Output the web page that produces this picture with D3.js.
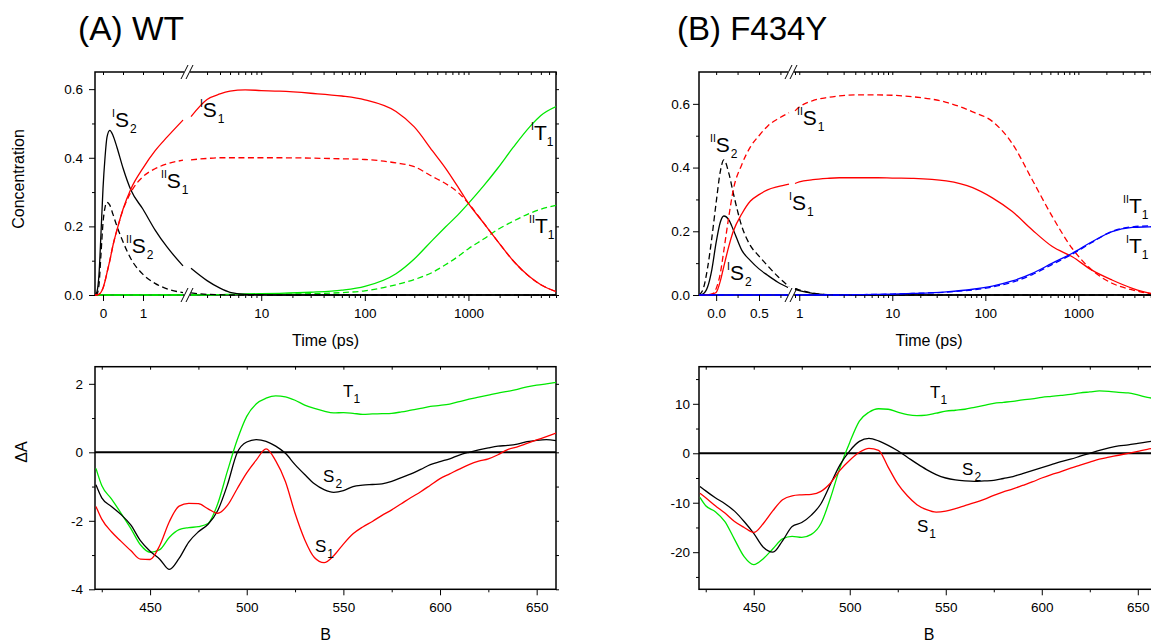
<!DOCTYPE html>
<html>
<head>
<meta charset="utf-8">
<script src="https://cdn.jsdelivr.net/npm/d3@7"></script>
<style>
  body { margin: 0; background: #fff; }
</style>
</head>
<body>
<svg id="chart" width="1151" height="643"></svg>
<script>
/*global d3*/

// (A) WT concentration profiles
var timeA = [-0.2, -0.15, -0.1, -0.05, 0, 0.05, 0.1, 0.17, 0.25, 0.35, 0.5, 0.7, 1.0, 1.3, 1.6, 2.0,
  2.1, 3, 4, 5, 7, 10, 15, 30, 60, 100, 200, 300, 450, 600, 800, 1000, 1400, 1900, 2700, 3900, 5000, 7000];
var wtS2I = [0, 0.01, 0.06, 0.18, 0.31, 0.4, 0.46, 0.48, 0.465, 0.43, 0.37, 0.305, 0.25, 0.19, 0.14, 0.085,
  0.078, 0.042, 0.02, 0.008, 0.002, 0.001, 0, 0, 0, 0, 0, 0, 0, 0, 0, 0, 0, 0, 0, 0, 0, 0];
var wtS2II = [0, 0.003, 0.03, 0.12, 0.21, 0.255, 0.27, 0.262, 0.235, 0.2, 0.155, 0.105, 0.06, 0.034, 0.018, 0.007,
  0.006, 0.002, 0.001, 0, 0, 0, 0, 0, 0, 0, 0, 0, 0, 0, 0, 0, 0, 0, 0, 0, 0, 0];
var wtS1I = [0, 0, 0.002, 0.008, 0.02, 0.04, 0.065, 0.1, 0.145, 0.19, 0.25, 0.31, 0.37, 0.42, 0.46, 0.51,
  0.52, 0.57, 0.586, 0.594, 0.598, 0.596, 0.594, 0.588, 0.58, 0.569, 0.535, 0.49, 0.42, 0.37, 0.313, 0.267,
  0.21, 0.158, 0.1, 0.053, 0.03, 0.01];
var wtS1II = [0, 0, 0.002, 0.008, 0.02, 0.04, 0.065, 0.1, 0.145, 0.19, 0.248, 0.3, 0.345, 0.368, 0.382, 0.393,
  0.394, 0.398, 0.4, 0.4, 0.4, 0.4, 0.4, 0.399, 0.397, 0.395, 0.385, 0.374, 0.345, 0.325, 0.298, 0.267,
  0.21, 0.158, 0.1, 0.053, 0.03, 0.01];
var wtT1I = [0, 0, 0, 0, 0, 0, 0, 0, 0, 0, 0, 0, 0, 0, 0, 0,
  0, 0.001, 0.001, 0.002, 0.003, 0.004, 0.005, 0.008, 0.014, 0.025, 0.062, 0.105, 0.16, 0.198, 0.235, 0.267,
  0.318, 0.368, 0.43, 0.49, 0.523, 0.549];
var wtT1II = [0, 0, 0, 0, 0, 0, 0, 0, 0, 0, 0, 0, 0, 0, 0, 0,
  0, 0, 0, 0.001, 0.001, 0.001, 0.002, 0.004, 0.007, 0.012, 0.03, 0.045, 0.066, 0.088, 0.113, 0.135,
  0.163, 0.19, 0.215, 0.238, 0.25, 0.261];

// (B) F434Y concentration profiles
var timeB = [-0.2, -0.15, -0.1, -0.05, 0, 0.05, 0.09, 0.15, 0.2, 0.3, 0.4, 0.5, 0.6, 0.72, 0.85,
  0.9, 1, 1.4, 2, 2.7, 4, 7, 10, 17, 38, 73, 119, 195, 320, 525, 860, 1400, 2300, 3800, 5800, 7000];
var mtS2I = [0, 0.004, 0.025, 0.08, 0.165, 0.23, 0.248, 0.235, 0.205, 0.14, 0.108, 0.082, 0.062, 0.04, 0.022,
  0.018, 0.014, 0.005, 0.001, 0, 0, 0, 0, 0, 0, 0, 0, 0, 0, 0, 0, 0, 0, 0, 0, 0];
var mtS2II = [0, 0.02, 0.085, 0.18, 0.29, 0.39, 0.424, 0.38, 0.32, 0.215, 0.155, 0.122, 0.092, 0.058, 0.026,
  0.02, 0.016, 0.006, 0.001, 0, 0, 0, 0, 0, 0, 0, 0, 0, 0, 0, 0, 0, 0, 0, 0, 0];
var mtS1I = [0, 0, 0.001, 0.003, 0.008, 0.045, 0.09, 0.155, 0.2, 0.255, 0.295, 0.315, 0.33, 0.34, 0.348,
  0.35, 0.355, 0.362, 0.366, 0.368, 0.368, 0.368, 0.367, 0.366, 0.358, 0.337, 0.305, 0.262, 0.204, 0.152,
  0.12, 0.078, 0.047, 0.021, 0.006, 0.003];
var mtS1II = [0, 0, 0, 0.003, 0.02, 0.07, 0.14, 0.25, 0.33, 0.41, 0.465, 0.5, 0.53, 0.553, 0.572,
  0.578, 0.59, 0.61, 0.62, 0.625, 0.628, 0.628, 0.627, 0.622, 0.605, 0.575, 0.545, 0.475, 0.361, 0.246,
  0.146, 0.078, 0.037, 0.016, 0.005, 0.003];
var mtT1I = [0, 0, 0, 0, 0, 0, 0, 0, 0, 0, 0, 0, 0, 0, 0,
  0, 0, 0, 0, 0, 0.001, 0.002, 0.003, 0.005, 0.01, 0.018, 0.028, 0.044, 0.068, 0.1,
  0.131, 0.167, 0.199, 0.212, 0.214, 0.215];
var mtT1II = [0, 0, 0, 0, 0, 0, 0, 0, 0, 0, 0, 0, 0, 0, 0,
  0, 0, 0, 0, 0, 0.001, 0.002, 0.003, 0.005, 0.009, 0.016, 0.025, 0.04, 0.064, 0.096,
  0.128, 0.165, 0.2, 0.214, 0.217, 0.217];

// species spectra
var wavelength = [422, 425, 430, 435, 440, 445, 450, 455, 460, 465, 470, 475, 480, 485, 490, 495, 500,
  505, 510, 515, 520, 525, 530, 535, 540, 545, 550, 555, 560, 565, 570, 575, 580, 585, 590, 595, 600,
  605, 610, 615, 620, 625, 630, 635, 640, 645, 650, 655, 660];
var wtSpecT1 = [-0.47, -0.97, -1.36, -1.78, -2.22, -2.70, -2.92, -2.84, -2.48, -2.26, -2.20, -2.17, -2.08,
  -1.50, -0.55, 0.35, 1.05, 1.42, 1.58, 1.65, 1.62, 1.52, 1.38, 1.28, 1.20, 1.15, 1.16, 1.14, 1.11, 1.12,
  1.13, 1.14, 1.18, 1.23, 1.28, 1.34, 1.37, 1.41, 1.48, 1.55, 1.61, 1.67, 1.73, 1.78, 1.84, 1.91, 1.96,
  2.00, 2.04];
var wtSpecS2 = [-0.95, -1.33, -1.58, -1.82, -2.12, -2.58, -2.89, -3.12, -3.42, -3.10, -2.62, -2.32, -2.10,
  -1.70, -0.95, -0.02, 0.30, 0.37, 0.32, 0.18, -0.03, -0.36, -0.65, -0.92, -1.09, -1.17, -1.12, -1.00,
  -0.96, -0.94, -0.92, -0.85, -0.74, -0.63, -0.50, -0.36, -0.27, -0.19, -0.08, 0.00, 0.07, 0.13, 0.18,
  0.20, 0.24, 0.31, 0.35, 0.37, 0.34];
var wtSpecS1 = [-1.58, -1.95, -2.32, -2.60, -2.87, -3.12, -3.13, -2.72, -2.02, -1.57, -1.49, -1.50, -1.65,
  -1.78, -1.55, -1.07, -0.60, -0.22, 0.10, -0.25, -0.85, -1.78, -2.55, -3.07, -3.22, -3.02, -2.68, -2.38,
  -2.18, -2.02, -1.84, -1.68, -1.50, -1.32, -1.15, -0.96, -0.77, -0.63, -0.49, -0.36, -0.26, -0.19, -0.07,
  0.08, 0.16, 0.26, 0.36, 0.46, 0.56];
var mtSpecT1 = [-8.9, -10.6, -11.8, -13.8, -17.4, -20.9, -22.5, -21.3, -19.3, -17.3, -16.8, -17.0, -16.4,
  -14.2, -9.0, -2.8, 2.2, 6.5, 8.3, 9.0, 8.9, 8.3, 7.8, 7.6, 7.7, 8.1, 8.5, 8.7, 8.9, 9.3, 9.7, 10.1, 10.3,
  10.5, 10.8, 11.0, 11.3, 11.5, 11.7, 11.9, 12.2, 12.4, 12.6, 12.5, 12.3, 12.2, 11.8, 11.3, 11.0];
var mtSpecS2 = [-6.7, -7.6, -9.0, -10.2, -11.7, -13.8, -16.2, -19.0, -20.0, -17.7, -14.8, -14.0, -12.5,
  -10.2, -6.2, -2.3, 0.5, 2.4, 3.0, 2.5, 1.6, 0.5, -0.8, -2.1, -3.3, -4.3, -5.0, -5.4, -5.6, -5.7, -5.6,
  -5.5, -5.1, -4.7, -4.1, -3.5, -2.9, -2.3, -1.7, -1.2, -0.6, 0.0, 0.6, 1.1, 1.5, 1.7, 2.0, 2.3, 2.6];
var mtSpecS1 = [-8.1, -9.0, -10.6, -12.1, -13.8, -15.0, -16.0, -14.2, -11.6, -9.4, -8.6, -8.4, -8.3, -7.7,
  -6.0, -3.4, -1.4, 0.2, 1.0, 0.6, -2.8, -6.2, -8.6, -10.4, -11.4, -11.9, -11.7, -11.2, -10.6, -10.0, -9.3,
  -8.5, -7.8, -7.2, -6.5, -5.8, -5.0, -4.3, -3.7, -3.0, -2.4, -1.8, -1.2, -0.8, -0.4, 0.0, 0.4, 0.8, 1.1];

// ticks
var concTicks = [0, 0.2, 0.4, 0.6], concMinor = [0.1, 0.3, 0.5];
var linTicksA = [0, 1], linMinorA = [0.5, 1.5];
var linTicksB = [0, 0.5], linMinorB = [0.25, 0.75];
var logTicksA = [10, 100, 1000], logTicksB = [1, 10, 100, 1000];
var wlTicks = [450, 500, 550, 600, 650], wlMinor = [425, 475, 525, 575, 625];
var dATicksA = [-4, -2, 0, 2], dAMinorA = [-3, -1, 1];
var dATicksB = [-20, -10, 0, 10], dAMinorB = [-25, -15, -5, 5, 15];

// state labels, placed in data units
var labelsTopA = [
  {sup: 'I', name: 'S', sub: '2', t: 0.225, v: 0.49},
  {sup: 'I', name: 'S', sub: '1', t: 2.56, v: 0.519},
  {sup: 'II', name: 'S', sub: '1', t: 1.45, v: 0.312},
  {sup: 'II', name: 'S', sub: '2', t: 0.575, v: 0.122},
  {sup: 'I', name: 'T', sub: '1', t: 4020, v: 0.452},
  {sup: 'II', name: 'T', sub: '1', t: 3850, v: 0.181}
];
var labelsTopB = [
  {sup: 'II', name: 'S', sub: '1', t: 0.945, v: 0.534},
  {sup: 'II', name: 'S', sub: '2', t: -0.072, v: 0.449},
  {sup: 'I', name: 'S', sub: '1', t: 0.85, v: 0.267},
  {sup: 'I', name: 'S', sub: '2', t: 0.127, v: 0.047},
  {sup: 'II', name: 'T', sub: '1', t: 3020, v: 0.257},
  {sup: 'I', name: 'T', sub: '1', t: 3250, v: 0.132}
];
var labelsBottomA = [
  {name: 'T', sub: '1', t: 549.8, v: 1.615},
  {name: 'S', sub: '2', t: 539.5, v: -0.866},
  {name: 'S', sub: '1', t: 535.3, v: -2.91}
];
var labelsBottomB = [
  {name: 'T', sub: '1', t: 541.8, v: 11.17},
  {name: 'S', sub: '2', t: 558.5, v: -4.39},
  {name: 'S', sub: '1', t: 535.0, v: -15.9}
];

var font = '"Liberation Sans", Arial, Helvetica, sans-serif',
  red = '#ff0000', green = '#00e800', blue = '#0000ff',
  svg = d3.select('#chart'),
  clipId = 0;

function brokenScale(linDomain, linRange, logDomain, logRange) {
  var lin = d3.scaleLinear().domain(linDomain).range(linRange),
    log = d3.scaleLog().domain(logDomain).range(logRange),
    f = function (t) {
      return t <= linDomain[1] ? lin(t) : log(t);
    };
  f.lin = lin;
  f.log = log;
  f.cut = linDomain[1];
  f.resume = logDomain[0];
  return f;
}

function styleAxis(sel) {
  sel.select('.domain').remove();
  sel.selectAll('line').attr('stroke', '#000').attr('stroke-width', 1);
  sel.selectAll('text')
    .attr('font-size', 13.5)
    .attr('font-family', font)
    .attr('fill', '#000');
}

function addAxis(g, axis, ty, tx) {
  g.append('g')
    .attr('transform', 'translate(' + (tx || 0) + ',' + ty + ')')
    .call(axis)
    .call(styleAxis);
}

function xAxes(g, scale, majors, minors, fmt, box) {
  addAxis(g, d3.axisBottom(scale).tickValues(majors).tickSize(6).tickPadding(7.5).tickFormat(fmt), box.y1);
  addAxis(g, d3.axisBottom(scale).tickValues(minors).tickSize(3).tickFormat(''), box.y1);
  addAxis(g, d3.axisTop(scale).tickValues(majors).tickSize(-3).tickFormat(''), box.y0);
  addAxis(g, d3.axisTop(scale).tickValues(minors).tickSize(-3).tickFormat(''), box.y0);
}

function yAxes(g, scale, majors, minors, fmt, box, pad) {
  g.append('g')
    .attr('transform', 'translate(' + box.x0 + ',0)')
    .call(d3.axisLeft(scale).tickValues(majors).tickSize(6).tickPadding(pad).tickFormat(fmt))
    .call(styleAxis);
  g.append('g')
    .attr('transform', 'translate(' + box.x0 + ',0)')
    .call(d3.axisLeft(scale).tickValues(minors).tickSize(3).tickFormat(''))
    .call(styleAxis);
  g.append('g')
    .attr('transform', 'translate(' + box.x1 + ',0)')
    .call(d3.axisRight(scale).tickValues(majors.concat(minors)).tickSize(3).tickFormat(''))
    .call(styleAxis);
}

function makePanel(box) {
  var g = svg.append('g'),
    id = 'clip' + (clipId += 1);
  svg.append('clipPath').attr('id', id)
    .append('rect')
    .attr('x', box.x0).attr('y', box.y0 - 1)
    .attr('width', box.x1 - box.x0).attr('height', box.y1 - box.y0 + 2);
  g.append('rect')
    .attr('x', box.x0).attr('y', box.y0)
    .attr('width', box.x1 - box.x0).attr('height', box.y1 - box.y0)
    .attr('fill', 'none').attr('stroke', '#000').attr('stroke-width', 1.5);
  g.plot = g.append('g').attr('clip-path', 'url(#' + id + ')');
  return g;
}

function concLine(g, x, y, times, values, color, dash) {
  var pts = times.map(function (t, i) { return [t, values[i]]; }),
    line = d3.line()
      .x(function (d) { return x(d[0]); })
      .y(function (d) { return y(d[1]); })
      .curve(d3.curveMonotoneX);
  [pts.filter(function (d) { return d[0] <= x.cut; }),
    pts.filter(function (d) { return d[0] >= x.resume; })].forEach(function (seg) {
    g.append('path')
      .attr('d', line(seg))
      .attr('fill', 'none')
      .attr('stroke', color)
      .attr('stroke-width', 1.3)
      .attr('stroke-dasharray', dash ? '6,3.5' : null);
  });
}

function specLine(g, x, y, values, color) {
  var line = d3.line()
    .x(function (d, i) { return x(wavelength[i]); })
    .y(function (d) { return y(d); })
    .curve(d3.curveMonotoneX);
  g.append('path')
    .attr('d', line(values))
    .attr('fill', 'none')
    .attr('stroke', color)
    .attr('stroke-width', 1.3);
}

function stateLabel(g, px, py, d, size) {
  var t = g.append('text')
    .attr('x', px).attr('y', py)
    .attr('font-family', font)
    .attr('font-size', size)
    .attr('fill', '#000');
  if (d.sup) {
    t.append('tspan').attr('font-size', 10.5).attr('dy', -10).text(d.sup);
    t.append('tspan').attr('dy', 10).text(d.name);
  } else {
    t.append('tspan').text(d.name);
  }
  t.append('tspan').attr('font-size', 12).attr('dx', d.name === 'T' ? 0 : 1).attr('dy', 6).text(d.sub);
}

function breakMark(g, cx, cy) {
  g.append('rect')
    .attr('x', cx - 3).attr('y', cy - 8)
    .attr('width', 6).attr('height', 16)
    .attr('fill', '#fff');
  [-2.5, 2.5].forEach(function (dx) {
    g.append('line')
      .attr('x1', cx + dx - 3.5).attr('y1', cy + 7)
      .attr('x2', cx + dx + 3.5).attr('y2', cy - 7)
      .attr('stroke', '#000').attr('stroke-width', 1);
  });
}

function concPanel(box, x, linTicks, linMinor, linFmt, logTicks, yMax, ypad, series, labels, breakX) {
  var g = makePanel(box),
    y = d3.scaleLinear().domain([0, yMax]).range([box.y1, box.y0]),
    logMinor = x.log.ticks().filter(function (t) { return logTicks.indexOf(t) < 0; });

  xAxes(g, x.lin, linTicks, linMinor, linFmt, box);
  xAxes(g, x.log, logTicks, logMinor, d3.format('d'), box);
  yAxes(g, y, concTicks, concMinor, d3.format('.1f'), box, ypad);

  series.forEach(function (s) {
    concLine(g.plot, x, y, s.time, s.values, s.color, s.dash);
  });
  labels.forEach(function (d) {
    stateLabel(g, x(d.t), y(d.v), d, 21);
  });
  breakMark(g, breakX, box.y0);
  breakMark(g, breakX, box.y1);
  return g;
}

function specPanel(box, yDomain, majors, minors, ypad, series, labels) {
  var g = makePanel(box),
    x = d3.scaleLinear().domain([421.5, 660]).range([box.x0, box.x1]),
    y = d3.scaleLinear().domain(yDomain).range([box.y1, box.y0]);

  xAxes(g, x, wlTicks, wlMinor, d3.format('d'), box);
  yAxes(g, y, majors, minors, function (d) { return String(d); }, box, ypad);

  g.plot.append('line')
    .attr('x1', box.x0).attr('x2', box.x1)
    .attr('y1', y(0)).attr('y2', y(0))
    .attr('stroke', '#000').attr('stroke-width', 2);
  series.forEach(function (s) {
    specLine(g.plot, x, y, s.values, s.color);
  });
  labels.forEach(function (d) {
    stateLabel(g, x(d.t), y(d.v), d, 17);
  });
  return g;
}

var boxTopA = {x0: 95, x1: 556, y0: 72, y1: 295},
  boxTopB = {x0: 699, x1: 1157, y0: 72, y1: 295},
  boxBotA = {x0: 95, x1: 556, y0: 366.7, y1: 589.3},
  boxBotB = {x0: 699, x1: 1157, y0: 366.7, y1: 589.3};

concPanel(boxTopA,
  brokenScale([-0.2, 2.0], [95, 183], [2.1, 7000], [191, 556]),
  linTicksA, linMinorA, d3.format('d'), logTicksA, 0.65, 6,
  [
    {time: timeA, values: wtT1II, color: green, dash: true},
    {time: timeA, values: wtT1I, color: green},
    {time: timeA, values: wtS2II, color: '#000', dash: true},
    {time: timeA, values: wtS2I, color: '#000'},
    {time: timeA, values: wtS1II, color: red, dash: true},
    {time: timeA, values: wtS1I, color: red}
  ], labelsTopA, 187);

concPanel(boxTopB,
  brokenScale([-0.2, 0.85], [699, 789], [0.9, 7000], [795, 1157]),
  linTicksB, linMinorB, d3.format('.1f'), logTicksB, 0.7, 3,
  [
    {time: timeB, values: mtS2II, color: '#000', dash: true},
    {time: timeB, values: mtS2I, color: '#000'},
    {time: timeB, values: mtS1II, color: red, dash: true},
    {time: timeB, values: mtS1I, color: red},
    {time: timeB, values: mtT1II, color: blue, dash: true},
    {time: timeB, values: mtT1I, color: blue}
  ], labelsTopB, 791);

specPanel(boxBotA, [-4, 2.5], dATicksA, dAMinorA, 6,
  [
    {values: wtSpecT1, color: green},
    {values: wtSpecS2, color: '#000'},
    {values: wtSpecS1, color: red}
  ], labelsBottomA);

specPanel(boxBotB, [-27.5, 17.5], dATicksB, dAMinorB, 3,
  [
    {values: mtSpecT1, color: green},
    {values: mtSpecS2, color: '#000'},
    {values: mtSpecS1, color: red}
  ], labelsBottomB);

// titles and axis names
function addText(x, y, str, size, anchor, rotate) {
  svg.append('text')
    .attr('transform', 'translate(' + x + ',' + y + ')' + (rotate ? ' rotate(-90)' : ''))
    .attr('text-anchor', anchor)
    .attr('font-family', font)
    .attr('font-size', size)
    .attr('fill', '#000')
    .text(str);
}

addText(78, 40, '(A) WT', 33.5, 'start');
addText(677, 40, '(B) F434Y', 33, 'start');
addText(24, 179, 'Concentration', 16, 'middle', true);
addText(27, 452, '\u0394A', 16, 'middle', true);
addText(325.5, 346, 'Time (ps)', 16, 'middle');
addText(929, 346, 'Time (ps)', 16, 'middle');
addText(325.5, 640, 'B', 16, 'middle');
addText(929, 640, 'B', 16, 'middle');
</script>
</body>
</html>
